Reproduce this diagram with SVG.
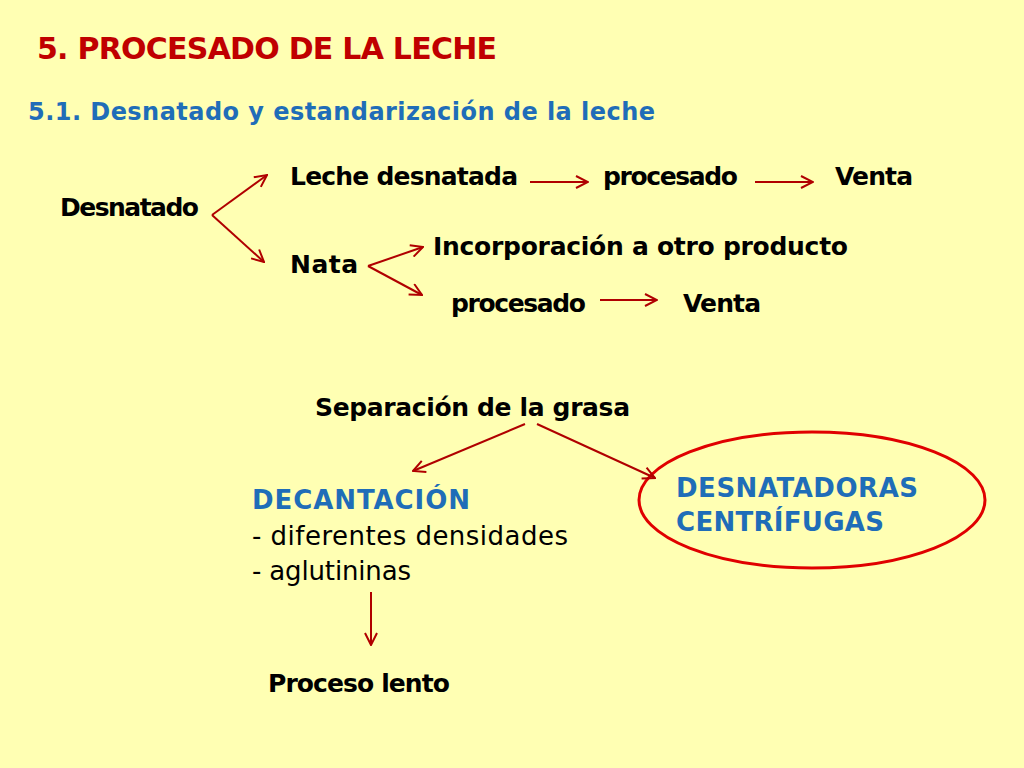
<svg xmlns="http://www.w3.org/2000/svg" width="1024" height="768" viewBox="0 0 1024 768">
<defs>
<style>
text{font-family:"DejaVu Sans","Liberation Sans",sans-serif;font-weight:bold;fill:#000}
.t{fill:#c00000;font-size:30px}
.s{fill:#1f6db8;font-size:24px}
.b{font-size:25px}
.bl{fill:#1f6db8;font-size:26px}
.r{font-weight:normal;font-size:26px}
.c line,.c path{stroke:#b00000;stroke-width:2;fill:none}
</style>
<marker id="ah" viewBox="0 0 14 14" refX="13" refY="7" markerWidth="14" markerHeight="14" markerUnits="userSpaceOnUse" orient="auto">
<path d="M1,1 L13,7 L1,13" fill="none" stroke="#b00000" stroke-width="2"/>
</marker>
</defs>
<rect width="1024" height="768" fill="#ffffb3"/>
<text class="t" x="37" y="59" textLength="460">5. PROCESADO DE LA LECHE</text>
<text class="s" x="28" y="120" textLength="627">5.1. Desnatado y estandarización de la leche</text>
<g id="desnatado"><text class="b" x="60" y="216" textLength="139">Desnatado</text></g>
<g id="leche-desnatada"><text class="b" x="290" y="185" textLength="228">Leche desnatada</text></g>
<g id="procesado1"><text class="b" x="603" y="185" textLength="135">procesado</text></g>
<g id="venta1"><text class="b" x="835" y="185" textLength="78">Venta</text></g>
<g id="nata"><text class="b" x="290" y="273" textLength="68">Nata</text></g>
<g id="incorporacion"><text class="b" x="433" y="255" textLength="415">Incorporación a otro producto</text></g>
<g id="procesado2"><text class="b" x="451" y="312" textLength="135">procesado</text></g>
<g id="venta2"><text class="b" x="683" y="312" textLength="78">Venta</text></g>
<g id="separacion"><text class="b" x="315" y="416" textLength="315">Separación de la grasa</text></g>
<g id="decantacion">
<text class="bl" x="252" y="509" textLength="218">DECANTACIÓN</text>
<text class="r" x="252" y="545" textLength="316">- diferentes densidades</text>
<text class="r" x="252" y="580" textLength="159">- aglutininas</text>
</g>
<g id="desnatadoras">
<ellipse cx="812" cy="500" rx="173" ry="68" fill="none" stroke="#e00000" stroke-width="3"/>
<text class="bl" x="676" y="497" textLength="242">DESNATADORAS</text>
<text class="bl" x="676" y="531" textLength="208">CENTRÍFUGAS</text>
</g>
<g id="proceso-lento"><text class="b" x="268" y="692" textLength="182">Proceso lento</text></g>
<g class="c" id="connectors">
<line x1="212" y1="215" x2="267" y2="175" marker-end="url(#ah)"/>
<line x1="212" y1="215" x2="264" y2="262" marker-end="url(#ah)"/>
<line x1="368" y1="266" x2="423" y2="247" marker-end="url(#ah)"/>
<line x1="368" y1="266" x2="422" y2="295" marker-end="url(#ah)"/>
<line x1="530" y1="182" x2="588" y2="182" marker-end="url(#ah)"/>
<line x1="755" y1="182" x2="813" y2="182" marker-end="url(#ah)"/>
<line x1="600" y1="300" x2="657" y2="300" marker-end="url(#ah)"/>
<line x1="525" y1="424" x2="413" y2="471" marker-end="url(#ah)"/>
<line x1="537" y1="424" x2="655" y2="478" marker-end="url(#ah)"/>
<line x1="371" y1="592" x2="371" y2="645" marker-end="url(#ah)"/>
</g>
</svg>
